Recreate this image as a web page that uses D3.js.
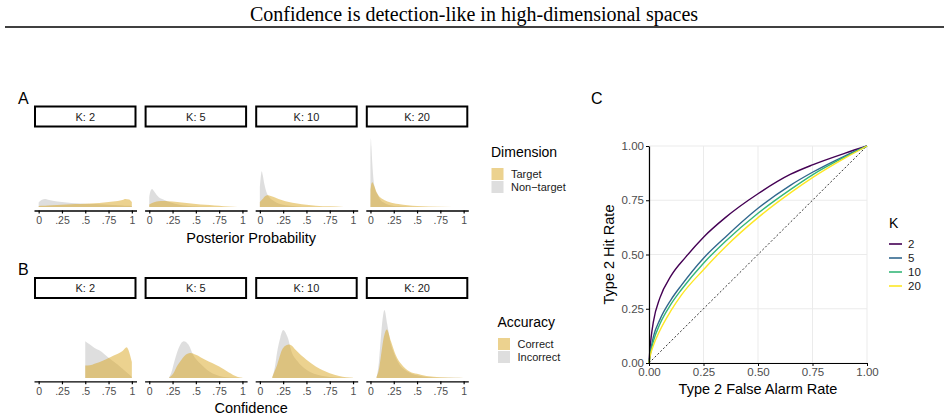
<!DOCTYPE html>
<html>
<head>
<meta charset="utf-8">
<title>Confidence is detection-like</title>
<script src="https://cdn.jsdelivr.net/npm/d3@7"></script>
<style>
  body { margin: 0; background: #fff; }
  svg text { font-family: "Liberation Sans", Arial, sans-serif; }
</style>
</head>
<body>
<div id="chart"></div>
<script>
// facet levels and tick labels
var kLevels = [2, 5, 10, 20];
var facetTicks = [0, 0.25, 0.5, 0.75, 1];
var facetTickLabels = ["0", ".25", ".5", ".75", "1"];
var rocTicks = [0, 0.25, 0.5, 0.75, 1];

// A: posterior probability densities, [x, density]
var postTarget2 = [[0,.10],[.05,.12],[.1,.15],[.2,.20],[.3,.25],[.4,.30],[.5,.33],[.6,.38],[.7,.45],[.8,.55],[.9,.70],[.93,.80],[.97,.75],[1,.50]];
var postNon2 = [[0,.45],[.03,.70],[.07,.80],[.1,.72],[.2,.55],[.3,.45],[.4,.38],[.5,.33],[.6,.30],[.7,.25],[.8,.20],[.9,.15],[.95,.12],[1,.10]];
var postTarget5 = [[0,.25],[.03,.40],[.06,.50],[.1,.57],[.15,.60],[.2,.58],[.3,.50],[.4,.40],[.5,.30],[.6,.22],[.7,.15],[.8,.08],[.9,.03],[1,.005]];
var postNon5 = [[0,1.0],[.01,1.5],[.03,1.8],[.05,1.6],[.08,1.2],[.1,1.0],[.15,.75],[.2,.55],[.25,.40],[.3,.28],[.4,.13],[.5,.06],[.6,.025],[.8,.005],[1,0]];
var postTarget10 = [[0,.50],[.03,.80],[.06,1.10],[.08,1.17],[.1,1.15],[.15,1.0],[.2,.80],[.25,.65],[.3,.52],[.4,.36],[.5,.23],[.6,.14],[.75,.07],[.9,.015],[1,.005]];
var postNon10 = [[0,2.0],[.01,3.0],[.02,3.55],[.03,3.2],[.05,2.2],[.07,1.5],[.1,1.0],[.15,.60],[.2,.35],[.3,.15],[.4,.06],[.5,.02],[.7,.002],[1,0]];
var postTarget20 = [[0,1.7],[.01,2.3],[.02,2.47],[.04,2.1],[.06,1.6],[.09,1.1],[.13,.80],[.2,.50],[.3,.30],[.4,.18],[.5,.10],[.75,.02],[1,0]];
var postNon20 = [[0,5.5],[.005,6.8],[.01,6.0],[.02,4.3],[.035,2.5],[.05,1.8],[.08,1.2],[.1,.80],[.15,.40],[.2,.20],[.3,.07],[.5,.01],[1,0]];

// B: confidence densities, [x, density]
var confCorrect2 = [[.5,1.23],[.55,1.25],[.6,1.4],[.65,1.55],[.7,1.75],[.75,1.97],[.8,2.2],[.85,2.4],[.9,2.65],[.945,3.03],[.97,2.6],[1,1.57]];
var confIncorrect2 = [[.5,3.63],[.55,3.3],[.6,2.97],[.65,2.73],[.7,2.4],[.75,2.0],[.8,1.65],[.85,1.3],[.9,.9],[.95,.5],[1,.1]];
var confCorrect5 = [[.21,0],[.26,.47],[.3,1.2],[.33,1.6],[.38,2.2],[.44,2.47],[.5,2.3],[.6,1.8],[.75,1.13],[.85,.57],[.95,.1],[1,.02]];
var confIncorrect5 = [[.21,0],[.24,.6],[.26,1.3],[.31,2.8],[.34,3.4],[.37,3.63],[.42,3.3],[.47,2.3],[.55,1.4],[.65,.6],[.75,.2],[.9,.03],[1,0]];
var confCorrect10 = [[.133,.1],[.186,1.3],[.24,2.8],[.27,3.15],[.31,3.3],[.34,3.2],[.38,2.8],[.5,1.8],[.6,1.13],[.75,.47],[.85,.2],[1,.02]];
var confIncorrect10 = [[.133,0],[.16,1.0],[.186,2.6],[.22,4.0],[.25,4.73],[.28,4.4],[.3,3.97],[.34,2.6],[.4,1.7],[.5,.8],[.6,.35],[.75,.1],[1,0]];
var confCorrect20 = [[.065,.1],[.09,.8],[.11,1.97],[.145,4.1],[.175,4.8],[.22,3.63],[.27,2.3],[.33,1.37],[.42,.63],[.5,.4],[.6,.2],[.75,.07],[.9,.02],[1,0]];
var confIncorrect20 = [[.065,0],[.09,1.5],[.11,3.8],[.13,5.8],[.15,6.73],[.18,5.3],[.22,3.3],[.25,2.5],[.3,1.5],[.4,.6],[.5,.25],[.6,.1],[.8,.01],[1,0]];

// C: type 2 ROC curves, [false alarm rate, hit rate]
var roc2 = [[0,0],[.005,.07],[.01,.12],[.02,.19],[.05,.30],[.1,.40],[.17,.49],[.25,.58],[.35,.67],[.5,.78],[.65,.87],[.75,.913],[.9,.967],[1,1]];
var roc5 = [[0,0],[.005,.04],[.02,.12],[.05,.20],[.1,.29],[.15,.36],[.25,.483],[.35,.58],[.5,.713],[.65,.82],[.75,.879],[.9,.955],[1,1]];
var roc10 = [[0,0],[.005,.035],[.02,.10],[.05,.18],[.1,.27],[.15,.34],[.25,.46],[.35,.56],[.5,.69],[.65,.80],[.75,.867],[.9,.95],[1,1]];
var roc20 = [[0,0],[.005,.03],[.02,.08],[.05,.15],[.1,.24],[.15,.315],[.25,.43],[.35,.535],[.5,.67],[.65,.785],[.75,.854],[.9,.945],[1,1]];

var rowA = [[postTarget2, postNon2], [postTarget5, postNon5], [postTarget10, postNon10], [postTarget20, postNon20]];
var rowB = [[confCorrect2, confIncorrect2], [confCorrect5, confIncorrect5], [confCorrect10, confIncorrect10], [confCorrect20, confIncorrect20]];
var rocCurves = [roc2, roc5, roc10, roc20];
var kColors = ["#440154", "#31688E", "#35B779", "#FDE725"];

var goldFill = "#DAA520", greyFill = "#BEBEBE";

var svg = d3.select("#chart").append("svg")
  .attr("width", 948)
  .attr("height", 420);

// header
svg.append("text")
  .attr("x", 474).attr("y", 20.5)
  .attr("text-anchor", "middle")
  .style("font-family", "'Liberation Serif', 'Times New Roman', serif")
  .style("font-size", "20px")
  .text("Confidence is detection-like in high-dimensional spaces");
svg.append("line")
  .attr("x1", 5).attr("x2", 944).attr("y1", 27).attr("y2", 27)
  .attr("stroke", "#000").attr("stroke-width", 1.5);

// facet panels
var facetLeft = 34, facetStep = 110.6, facetW = 102.5;

function drawRow(rows, stripTop, stripBottom, panelTop, panelBottom, axisTitle, titleY) {
  var ymax = d3.max(rows, function(r) { return d3.max(r, function(s) { return d3.max(s, function(d) { return d[1]; }); }); });
  var y = d3.scaleLinear()
    .domain([-0.05 * ymax, 1.05 * ymax])
    .range([panelBottom, panelTop]);

  rows.forEach(function(pair, i) {
    var x0 = facetLeft + i * facetStep;
    var x = d3.scaleLinear()
      .domain([-0.05, 1.05])
      .range([x0, x0 + facetW]);

    // strip
    svg.append("rect")
      .attr("x", x0 + 1).attr("y", stripTop + 1)
      .attr("width", facetW - 2).attr("height", stripBottom - stripTop - 2)
      .attr("fill", "#fff").attr("stroke", "#000").attr("stroke-width", 2);
    svg.append("text")
      .attr("x", x0 + facetW / 2).attr("y", (stripTop + stripBottom) / 2 + 4)
      .attr("text-anchor", "middle")
      .style("font-size", "11px").attr("fill", "#1a1a1a")
      .text("K: " + kLevels[i]);

    var area = d3.area()
      .x(function(d) { return x(d[0]); })
      .y0(y(0))
      .y1(function(d) { return y(d[1]); })
      .curve(d3.curveMonotoneX);

    // non-target / incorrect first, target / correct on top
    svg.append("path").datum(pair[1])
      .attr("d", area).attr("fill", greyFill).attr("fill-opacity", 0.5);
    svg.append("path").datum(pair[0])
      .attr("d", area).attr("fill", goldFill).attr("fill-opacity", 0.5);

    var ax = svg.append("g")
      .attr("transform", "translate(0," + panelBottom + ")")
      .call(d3.axisBottom(x)
        .tickValues(facetTicks)
        .tickFormat(function(d, j) { return facetTickLabels[j]; })
        .tickSize(3).tickSizeOuter(0).tickPadding(3));
    ax.select(".domain").attr("stroke-width", 1.3);
    ax.selectAll(".tick line").attr("stroke-width", 1.2);
    ax.selectAll("text").style("font-size", "10.5px").attr("fill", "#4d4d4d")
      .style("font-family", "'Liberation Sans', Arial, sans-serif");
  });

  svg.append("text")
    .attr("x", facetLeft + (3 * facetStep + facetW) / 2).attr("y", titleY)
    .attr("text-anchor", "middle")
    .style("font-size", "14.5px")
    .text(axisTitle);
}

drawRow(rowA, 105.5, 127.5, 135, 210.5, "Posterior Probability", 243);
drawRow(rowB, 277, 299, 306.5, 381.3, "Confidence", 413);

// panel tags
[["A", 18, 104], ["B", 18, 275], ["C", 591, 104]].forEach(function(t) {
  svg.append("text").attr("x", t[1]).attr("y", t[2])
    .style("font-size", "16px").text(t[0]);
});

// fill legends
function fillLegend(x0, titleY, title, labels) {
  svg.append("text").attr("x", x0).attr("y", titleY)
    .style("font-size", "14px").text(title);
  labels.forEach(function(lab, i) {
    var ky = titleY + 11 + i * 13;
    svg.append("rect").attr("x", x0 + 0.5).attr("y", ky)
      .attr("width", 12).attr("height", 12)
      .attr("fill", i === 0 ? goldFill : greyFill).attr("fill-opacity", 0.5);
    svg.append("text").attr("x", x0 + 20).attr("y", ky + 10)
      .style("font-size", "11px").attr("fill", "#1a1a1a").text(lab);
  });
}
fillLegend(491, 157, "Dimension", ["Target", "Non\u2212target"]);
fillLegend(497.5, 327, "Accuracy", ["Correct", "Incorrect"]);

// panel C: ROC
var rx = d3.scaleLinear().domain([0, 1]).range([649, 867]);
var ry = d3.scaleLinear().domain([0, 1]).range([363, 146]);

svg.append("g").selectAll("line.gx").data(rocTicks).enter().append("line")
  .attr("x1", function(d) { return rx(d); }).attr("x2", function(d) { return rx(d); })
  .attr("y1", ry(0)).attr("y2", ry(1))
  .attr("stroke", "#ebebeb").attr("stroke-width", 1);
svg.append("g").selectAll("line.gy").data(rocTicks).enter().append("line")
  .attr("y1", function(d) { return ry(d); }).attr("y2", function(d) { return ry(d); })
  .attr("x1", rx(0)).attr("x2", rx(1))
  .attr("stroke", "#ebebeb").attr("stroke-width", 1);

svg.append("line")
  .attr("x1", rx(0)).attr("y1", ry(0)).attr("x2", rx(1)).attr("y2", ry(1))
  .attr("stroke", "#000").attr("stroke-width", 0.8).attr("stroke-dasharray", "2,2");

var rocLine = d3.line()
  .x(function(d) { return rx(d[0]); })
  .y(function(d) { return ry(d[1]); })
  .curve(d3.curveMonotoneX);

rocCurves.forEach(function(c, i) {
  svg.append("path").datum(c)
    .attr("d", rocLine)
    .attr("fill", "none").attr("stroke", kColors[i]).attr("stroke-width", 1.4);
});

var gxC = svg.append("g").attr("transform", "translate(0," + ry(0) + ")")
  .call(d3.axisBottom(rx).tickValues(rocTicks).tickFormat(d3.format(".2f")).tickSize(3).tickSizeOuter(0).tickPadding(2));
var gyC = svg.append("g").attr("transform", "translate(" + rx(0) + ",0)")
  .call(d3.axisLeft(ry).tickValues(rocTicks).tickFormat(d3.format(".2f")).tickSize(3).tickSizeOuter(0).tickPadding(2));
[gxC, gyC].forEach(function(g) {
  g.select(".domain").attr("stroke-width", 1.2);
  g.selectAll("text").style("font-size", "11.5px").attr("fill", "#4d4d4d")
    .style("font-family", "'Liberation Sans', Arial, sans-serif");
});

svg.append("text").attr("x", 758).attr("y", 394)
  .attr("text-anchor", "middle").style("font-size", "14.5px")
  .text("Type 2 False Alarm Rate");
svg.append("text")
  .attr("transform", "translate(614,254.5) rotate(-90)")
  .attr("text-anchor", "middle").style("font-size", "14.5px")
  .text("Type 2 Hit Rate");

// K legend
svg.append("text").attr("x", 889).attr("y", 228)
  .style("font-size", "14px").text("K");
kLevels.forEach(function(k, i) {
  var ly = 244 + i * 14;
  svg.append("line").attr("x1", 889).attr("x2", 902).attr("y1", ly).attr("y2", ly)
    .attr("stroke", kColors[i]).attr("stroke-width", 1.6);
  svg.append("text").attr("x", 908).attr("y", ly + 4)
    .style("font-size", "11.5px").attr("fill", "#1a1a1a").text(k);
});
</script>
</body>
</html>
